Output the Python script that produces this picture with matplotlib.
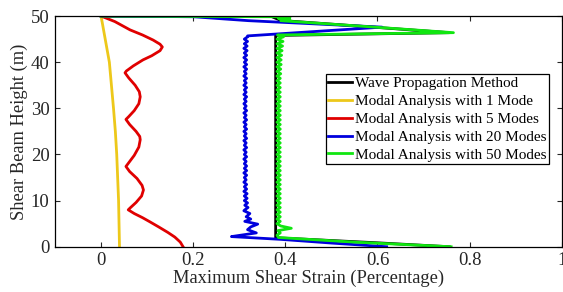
import matplotlib
matplotlib.use("Agg")
import matplotlib.pyplot as plt

plt.rcParams['font.family'] = ['Liberation Serif', 'DejaVu Serif']
plt.rcParams['mathtext.fontset'] = 'stix'

# ---------------- data ----------------
labels = ["Wave Propagation Method",
          "Modal Analysis with 1 Mode",
          "Modal Analysis with 5 Modes",
          "Modal Analysis with 20 Modes",
          "Modal Analysis with 50 Modes"]

# Wave propagation method
wave_x = [0.0, 0.37, 0.39, 0.756, 0.379, 0.379, 0.60, 0.756]
wave_y = [50.0, 49.9, 49.05, 46.4, 45.8, 1.95, 0.85, 0.0]

# 1 mode
m1_x = [0.0, 0.009, 0.018, 0.0225, 0.027, 0.031, 0.034, 0.036, 0.038, 0.039, 0.040]
m1_y = [50.0, 45.0, 40.0, 35.0, 30.0, 25.0, 20.0, 15.0, 10.0, 5.0, 0.0]

# 5 modes
m5_x = [0.0, 0.03, 0.063, 0.09, 0.113, 0.128, 0.133, 0.128, 0.11, 0.091, 0.07, 0.055, 0.052,
        0.06, 0.074, 0.083, 0.085, 0.082, 0.072, 0.06, 0.054,
        0.062, 0.076, 0.084, 0.085, 0.082, 0.072, 0.06, 0.054,
        0.062, 0.078, 0.089, 0.092, 0.088, 0.076, 0.063, 0.059,
        0.072, 0.09, 0.106, 0.125, 0.145, 0.16, 0.172, 0.178]
m5_y = [50.0, 48.8, 47.0, 45.9, 44.8, 43.9, 43.3, 42.5, 41.4, 40.5, 39.2, 38.1, 37.7,
        36.6, 35.0, 33.6, 32.5, 31.0, 29.5, 28.2, 27.6,
        26.5, 25.0, 23.9, 23.2, 21.6, 19.8, 18.2, 17.4,
        16.3, 14.8, 13.3, 12.3, 11.0, 9.6, 8.4, 8.0,
        7.2, 6.3, 5.4, 4.3, 3.1, 2.1, 1.0, 0.0]

# common height grid for the oscillating middle parts
h_grid = [45.5, 45.0, 44.5, 44.0, 43.5, 43.0, 42.5, 42.0, 41.5, 41.0,
          40.5, 40.0, 39.5, 39.0, 38.5, 38.0, 37.5, 37.0, 36.5, 36.0,
          35.5, 35.0, 34.5, 34.0, 33.5, 33.0, 32.5, 32.0, 31.5, 31.0,
          30.5, 30.0, 29.5, 29.0, 28.5, 28.0, 27.5, 27.0, 26.5, 26.0,
          25.5, 25.0, 24.5, 24.0, 23.5, 23.0, 22.5, 22.0, 21.5, 21.0,
          20.5, 20.0, 19.5, 19.0, 18.5, 18.0, 17.5, 17.0, 16.5, 16.0,
          15.5, 15.0, 14.5, 14.0, 13.5, 13.0, 12.5, 12.0, 11.5, 11.0,
          10.5, 10.0, 9.5, 9.0, 8.5, 8.0, 7.5, 7.0, 6.5, 6.0,
          5.5, 5.0, 4.5, 4.0, 3.5, 3.0, 2.5]

# 20 modes
m20_top_x = [0.0, 0.2, 0.32, 0.61, 0.318]
m20_top_y = [50.0, 49.85, 49.0, 47.6, 45.7]
m20_mid_x = [0.318, 0.311, 0.318, 0.311, 0.317, 0.310, 0.317, 0.311, 0.316, 0.310,
             0.316, 0.311, 0.316, 0.310, 0.316, 0.311, 0.315, 0.310, 0.316, 0.311,
             0.315, 0.310, 0.316, 0.311, 0.315, 0.310, 0.316, 0.311, 0.315, 0.310,
             0.315, 0.311, 0.316, 0.310, 0.315, 0.311, 0.316, 0.310, 0.315, 0.311,
             0.316, 0.310, 0.315, 0.311, 0.316, 0.310, 0.315, 0.311, 0.316, 0.310,
             0.315, 0.311, 0.316, 0.310, 0.315, 0.311, 0.316, 0.311, 0.316, 0.310,
             0.316, 0.311, 0.315, 0.310, 0.316, 0.311, 0.316, 0.310, 0.317, 0.311,
             0.317, 0.311, 0.318, 0.312, 0.319, 0.312]
m20_bot_x = [0.310, 0.323, 0.315, 0.325, 0.312, 0.340, 0.325, 0.318, 0.337, 0.310,
             0.283, 0.39, 0.50, 0.62]
m20_bot_y = [7.8, 7.2, 6.5, 6.0, 5.5, 4.9, 4.3, 3.7, 3.0, 2.6,
             2.2, 1.6, 0.8, 0.0]

# 50 modes
m50_top_x = [0.0, 0.38, 0.41, 0.385, 0.41, 0.39, 0.58, 0.765, 0.383]
m50_top_y = [50.0, 49.85, 49.7, 49.5, 49.3, 49.0, 47.7, 46.4, 45.9]
m50_mid_x = [0.396, 0.382, 0.395, 0.382, 0.394, 0.382, 0.393, 0.382, 0.392, 0.382,
             0.391, 0.382, 0.391, 0.382, 0.390, 0.382, 0.390, 0.382, 0.389, 0.382,
             0.389, 0.382, 0.389, 0.382, 0.389, 0.382, 0.389, 0.382, 0.389, 0.382,
             0.389, 0.382, 0.389, 0.382, 0.389, 0.382, 0.389, 0.382, 0.389, 0.382,
             0.389, 0.382, 0.389, 0.382, 0.389, 0.382, 0.389, 0.382, 0.389, 0.382,
             0.389, 0.382, 0.389, 0.382, 0.389, 0.382, 0.389, 0.382, 0.389, 0.382,
             0.389, 0.382, 0.389, 0.382, 0.389, 0.382, 0.389, 0.382, 0.389, 0.382,
             0.389, 0.382, 0.389, 0.382, 0.389, 0.382, 0.389, 0.382, 0.389, 0.382,
             0.389, 0.382, 0.390, 0.413, 0.384, 0.389, 0.382]
m50_bot_x = [0.385, 0.55, 0.76]
m50_bot_y = [2.0, 1.0, 0.0]

xticks = [0, 0.2, 0.4, 0.6, 0.8, 1]
xtick_labels = ["0", "0.2", "0.4", "0.6", "0.8", "1"]
yticks = [0, 10, 20, 30, 40, 50]

colors = ["#000000", "#EDC81A", "#E00000", "#0000DD", "#10E610"]

# ---------------- assemble series ----------------
m20_x = m20_top_x + m20_mid_x + m20_bot_x
m20_y = m20_top_y + h_grid[:len(m20_mid_x)] + m20_bot_y
m50_x = m50_top_x + m50_mid_x + m50_bot_x
m50_y = m50_top_y + h_grid[:len(m50_mid_x)] + m50_bot_y

series = [(wave_x, wave_y), (m1_x, m1_y), (m5_x, m5_y), (m20_x, m20_y), (m50_x, m50_y)]

fig = plt.figure(figsize=(5.63, 2.92), dpi=100)
ax = fig.add_axes([0.0977, 0.155, 0.9, 0.79])

for (xs, ys), c, lab in zip(series, colors, labels):
    ax.plot(xs, ys, color=c, lw=2.0, label=lab, solid_joinstyle='round')

ax.set_xlim(-0.1, 1.0)
ax.set_ylim(0, 50)
ax.set_xticks(xticks)
ax.set_xticklabels(xtick_labels)
ax.set_yticks(yticks)
ax.tick_params(direction='in', top=True, right=True, length=3.5, width=0.8,
               labelsize=13.5, colors='#262626', pad=4)
for s in ax.spines.values():
    s.set_linewidth(0.9)
ax.set_xlabel("Maximum Shear Strain (Percentage)", fontsize=13.3, labelpad=0, color='#262626')
ax.set_ylabel("Shear Beam Height (m)", fontsize=13.3, labelpad=2, color='#262626')

leg = ax.legend(loc='upper left', bbox_to_anchor=(0.534, 0.749), fontsize=11,
                frameon=True, fancybox=False, framealpha=1, edgecolor='black',
                borderpad=0.15, handlelength=1.6, handletextpad=0.2,
                labelspacing=0.28, borderaxespad=0)
leg.get_frame().set_linewidth(0.9)

fig.savefig("out.png", dpi=100)
